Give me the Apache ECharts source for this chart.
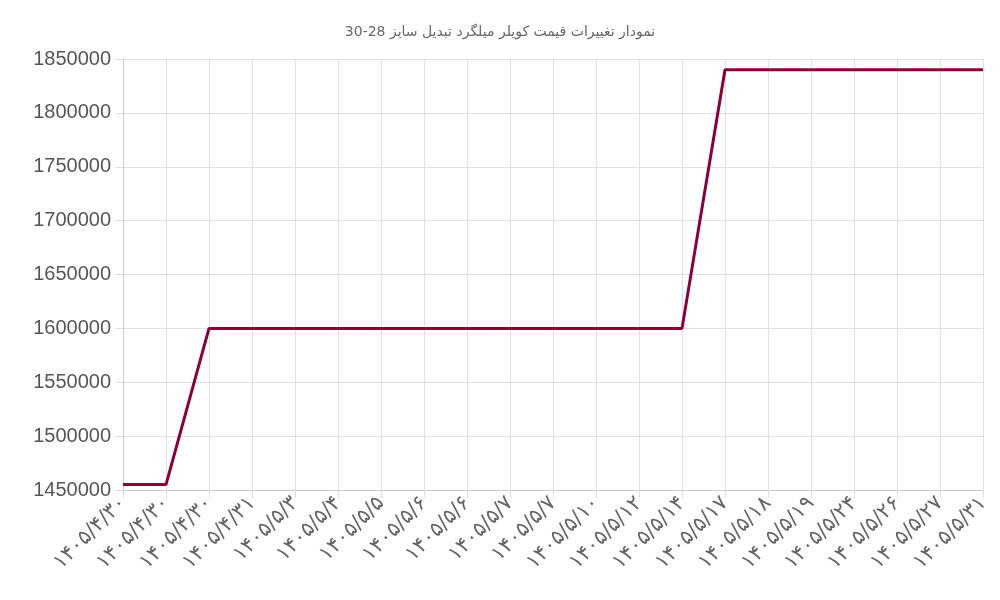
<!DOCTYPE html><html><head><meta charset="utf-8"><script src="https://cdn.jsdelivr.net/npm/echarts@6/dist/echarts.min.js"></script></head><body style="margin:0"><div id="c" style="width:1000px;height:600px"></div><script>
const labels=['۱۴۰۵/۴/۳۰','۱۴۰۵/۴/۳۰','۱۴۰۵/۴/۳۰','۱۴۰۵/۴/۳۱','۱۴۰۵/۵/۳','۱۴۰۵/۵/۴','۱۴۰۵/۵/۵','۱۴۰۵/۵/۶','۱۴۰۵/۵/۶','۱۴۰۵/۵/۷','۱۴۰۵/۵/۷','۱۴۰۵/۵/۱۰','۱۴۰۵/۵/۱۲','۱۴۰۵/۵/۱۴','۱۴۰۵/۵/۱۷','۱۴۰۵/۵/۱۸','۱۴۰۵/۵/۱۹','۱۴۰۵/۵/۲۴','۱۴۰۵/۵/۲۶','۱۴۰۵/۵/۲۷','۱۴۰۵/۵/۳۱'];
const prices=[1455000,1455000,1600000,1600000,1600000,1600000,1600000,1600000,1600000,1600000,1600000,1600000,1600000,1600000,1840000,1840000,1840000,1840000,1840000,1840000,1840000];
const title='نمودار تغییرات قیمت کویلر میلگرد تبدیل سایز 28-30';
const ch=echarts.init(document.getElementById('c'));
ch.setOption({animation:false,
title:{text:title,left:'center',top:20,textStyle:{fontSize:14,fontWeight:'normal',color:'#666',fontFamily:'DejaVu Sans'}},
grid:{left:123,right:17,top:59,bottom:110},
xAxis:{type:'category',boundaryGap:false,data:labels.map((l,i)=>String(i)),
axisLine:{lineStyle:{color:'#ccc'}},axisTick:{show:true,length:8,lineStyle:{color:'#ddd'}},
splitLine:{show:true,lineStyle:{color:'#e0e0e0'}},
axisLabel:{interval:0,rotate:45,fontSize:21,color:'#666',fontFamily:'DejaVu Sans',margin:10,formatter:v=>labels[+v]}},
yAxis:{type:'value',min:1450000,max:1850000,interval:50000,
axisLine:{show:true,lineStyle:{color:'#ccc'}},axisTick:{show:true,length:8,lineStyle:{color:'#ddd'}},
splitLine:{lineStyle:{color:'#e0e0e0'}},
axisLabel:{fontSize:20,color:'#555',fontFamily:'Liberation Sans',margin:12,formatter:v=>String(v)}},
series:[{type:'line',data:prices,symbol:'none',lineStyle:{color:'#8b0037',width:3}}]});
</script></body></html>
